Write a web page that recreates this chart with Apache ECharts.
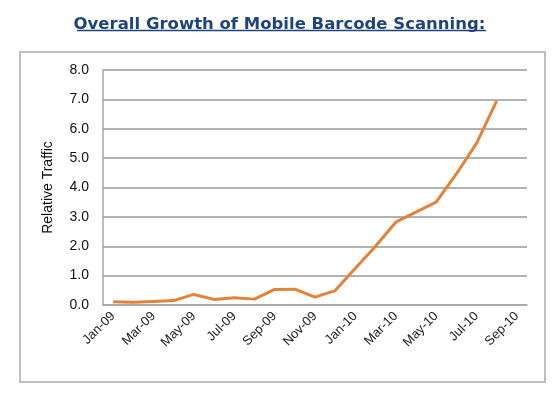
<!DOCTYPE html>
<html>
<head>
<meta charset="utf-8">
<script src="https://cdn.jsdelivr.net/npm/echarts@6/dist/echarts.min.js"></script>
<style>
  html, body { margin: 0; padding: 0; background: #fff; }
  #chart { width: 559px; height: 399px; }
</style>
</head>
<body>
<div id="chart"></div>
<script>
// months on the category axis (Sep-10 has no value yet)
var months = ['Jan-09', 'Feb-09', 'Mar-09', 'Apr-09', 'May-09', 'Jun-09', 'Jul-09',
  'Aug-09', 'Sep-09', 'Oct-09', 'Nov-09', 'Dec-09', 'Jan-10', 'Feb-10', 'Mar-10',
  'Apr-10', 'May-10', 'Jun-10', 'Jul-10', 'Aug-10', 'Sep-10'];
// relative traffic
var traffic = [0.11, 0.09, 0.12, 0.15, 0.36, 0.19, 0.25, 0.2, 0.53, 0.54, 0.27,
  0.49, 1.25, 2.0, 2.82, 3.16, 3.5, 4.46, 5.5, 6.95, null];
var yTicks = [0, 1, 2, 3, 4, 5, 6, 7, 8];

var chart = echarts.init(document.getElementById('chart'));

var option = {
  animation: false,
  title: {
    text: 'Overall Growth of Mobile Barcode Scanning:',
    left: 'center',
    top: 11,
    textStyle: {
      fontFamily: 'DejaVu Sans',
      fontWeight: 'bold',
      fontSize: 16.5,
      color: '#1F4479'
    }
  },
  graphic: [
    {
      // chart frame
      type: 'rect',
      shape: { x: 20, y: 52, width: 525, height: 330 },
      style: { fill: 'none', stroke: '#bfbfbf', lineWidth: 2 },
      z: -1
    },
    {
      // title underline
      type: 'line',
      shape: { x1: 77, y1: 30.5, x2: 486, y2: 30.5 },
      style: { stroke: '#1F4479', lineWidth: 1.5 }
    }
  ],
  grid: {
    left: 103,
    right: 32,
    top: 70,
    bottom: 94
  },
  xAxis: {
    type: 'category',
    data: months,
    boundaryGap: true,
    axisLine: { show: true, lineStyle: { color: '#a6a6a6', width: 1.5 } },
    axisTick: { show: false },
    axisLabel: {
      interval: 1,
      rotate: 45,
      margin: 9,
      fontFamily: 'Liberation Sans',
      fontSize: 13,
      color: '#222'
    }
  },
  yAxis: {
    type: 'value',
    min: yTicks[0],
    max: yTicks[yTicks.length - 1],
    interval: 1,
    name: 'Relative Traffic',
    nameLocation: 'middle',
    nameGap: 48,
    nameRotate: 90,
    nameTextStyle: {
      fontFamily: 'Liberation Sans',
      fontSize: 14,
      color: '#111'
    },
    axisLine: { show: true, lineStyle: { color: '#a6a6a6', width: 1.5 } },
    axisTick: { show: false },
    axisLabel: {
      margin: 14,
      fontFamily: 'Liberation Sans',
      fontSize: 14,
      color: '#111',
      formatter: function (v) { return v.toFixed(1); }
    },
    splitLine: { show: true, lineStyle: { color: '#999', width: 1.5 } }
  },
  series: [{
    type: 'line',
    data: traffic,
    symbol: 'none',
    connectNulls: false,
    lineStyle: { color: '#E3833A', width: 3 }
  }]
};

chart.setOption(option);
</script>
</body>
</html>
